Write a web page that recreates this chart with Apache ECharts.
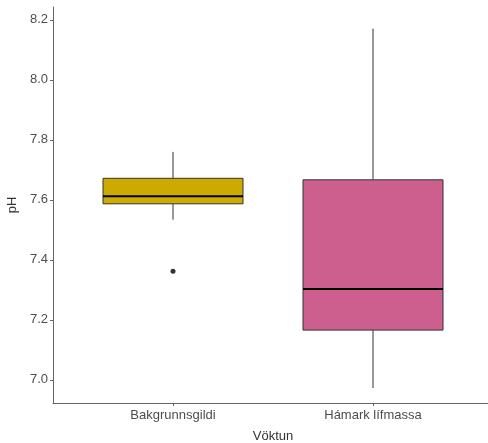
<!DOCTYPE html>
<html>
<head>
<meta charset="utf-8">
<script src="https://cdn.jsdelivr.net/npm/echarts@6/dist/echarts.min.js"></script>
<style>html,body{margin:0;padding:0;background:#fff}#c{width:488px;height:443px}</style>
</head>
<body>
<div id="c"></div>
<script>
const categories = ['Bakgrunnsgildi', 'Hámark lífmassa'];
const lowWhisker = [7.534, 6.973];
const q1 = [7.587, 7.166];
const median = [7.612, 7.303];
const q3 = [7.672, 7.667];
const highWhisker = [7.760, 8.171];
const outliers = [[0, 7.362]];
const boxColors = ['#CDAA00', '#CC5F8E'];
const yTicks = [7.0, 7.2, 7.4, 7.6, 7.8, 8.0, 8.2];

const boxData = categories.map((c, i) => [i, lowWhisker[i], q1[i], median[i], q3[i], highWhisker[i]]);
const halfW = 0.35;
const txt = '#4D4D4D';

const chart = echarts.init(document.getElementById('c'), null, {renderer: 'canvas'});
chart.setOption({
  animation: false,
  backgroundColor: '#fff',
  grid: {left: 53, top: 7, width: 440, height: 396, containLabel: false, outerBoundsMode: 'none'},
  xAxis: {
    type: 'value', min: -0.6, max: 1.6,
    name: 'Vöktun', nameLocation: 'middle', nameGap: 27,
    nameTextStyle: {color: '#333', fontSize: 13, fontFamily: 'Liberation Sans'},
    splitLine: {show: false},
    axisLine: {show: true, onZero: false, lineStyle: {color: '#666', width: 1}},
    axisTick: {show: true, length: 3, lineStyle: {color: '#666'}, customValues: categories.map((c, i) => i)},
    axisLabel: {color: txt, fontSize: 13, fontFamily: 'Liberation Sans', margin: 6,
      customValues: categories.map((c, i) => i),
      formatter: v => categories[Math.round(v)]}
  },
  yAxis: {
    type: 'value', min: 6.923, max: 8.243,
    name: 'pH', nameLocation: 'middle', nameGap: 28,
    nameTextStyle: {color: '#333', fontSize: 13, fontFamily: 'Liberation Sans'},
    splitLine: {show: false},
    axisLine: {show: true, onZero: false, lineStyle: {color: '#666', width: 1}},
    axisTick: {show: true, length: 3, lineStyle: {color: '#666'}, customValues: yTicks},
    axisLabel: {color: txt, fontSize: 13, fontFamily: 'Liberation Sans', margin: 5,
      customValues: yTicks, formatter: v => v.toFixed(1)}
  },
  series: [
    {
      type: 'custom',
      data: boxData,
      encode: {x: 0, y: [1, 2, 3, 4, 5]},
      renderItem: function (params, api) {
        const x = api.value(0);
        const lo = api.coord([x, api.value(1)]);
        const b1 = api.coord([x, api.value(2)]);
        const md = api.coord([x, api.value(3)]);
        const b3 = api.coord([x, api.value(4)]);
        const hi = api.coord([x, api.value(5)]);
        const left = api.coord([x - halfW, api.value(3)])[0];
        const right = api.coord([x + halfW, api.value(3)])[0];
        const idx = params.dataIndex;
        return {
          type: 'group',
          children: [
            {type: 'line', shape: {x1: hi[0], y1: hi[1], x2: b3[0], y2: b3[1]}, style: {stroke: '#333', lineWidth: 1}},
            {type: 'line', shape: {x1: b1[0], y1: b1[1], x2: lo[0], y2: lo[1]}, style: {stroke: '#333', lineWidth: 1}},
            {type: 'rect', shape: {x: left, y: b3[1], width: right - left, height: b1[1] - b3[1]},
              style: {fill: boxColors[idx], stroke: '#333', lineWidth: 1}},
            {type: 'line', shape: {x1: left, y1: md[1], x2: right, y2: md[1]}, style: {stroke: '#000', lineWidth: 2}}
          ]
        };
      }
    },
    {
      type: 'scatter',
      data: outliers,
      symbol: 'circle', symbolSize: 5,
      itemStyle: {color: '#000'}
    }
  ]
});
</script>
</body>
</html>
